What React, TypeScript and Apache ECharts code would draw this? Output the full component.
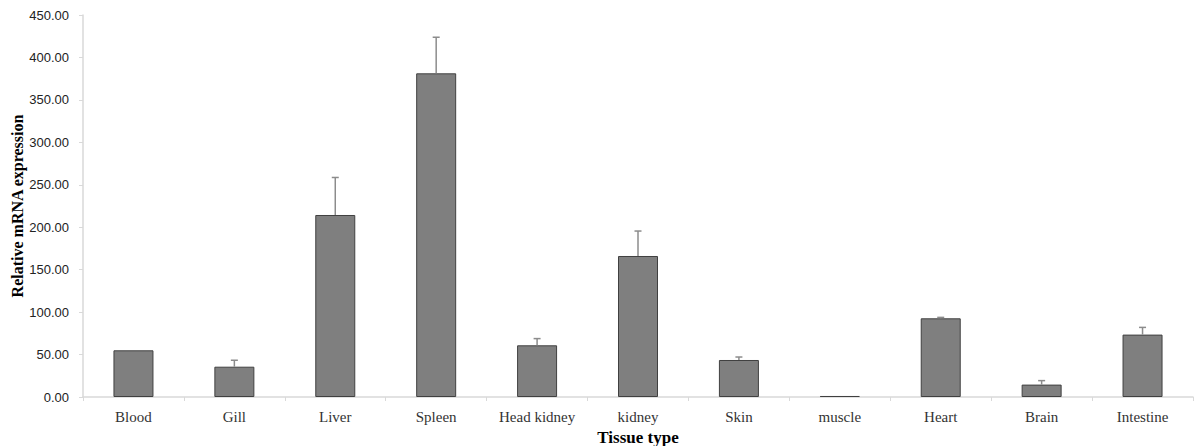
import React, { useEffect, useRef } from "react";
import * as echarts from "echarts";

const categories = ["Blood", "Gill", "Liver", "Spleen", "Head kidney", "kidney", "Skin", "muscle", "Heart", "Brain", "Intestine"];
const means = [55.0, 35.7, 214.4, 381.3, 60.9, 166.1, 43.6, 1.2, 92.7, 14.6, 73.5];
const errors = [0, 7.6, 44.2, 42.5, 7.9, 29.4, 3.5, 0, 1.1, 4.7, 8.5];
const yTicks = { min: 0, max: 450, interval: 50 };

export default function App() {
  const ref = useRef<HTMLDivElement>(null);
  useEffect(() => {
    document.body.style.margin = "0";
    const chart = echarts.init(ref.current!, null, { renderer: "svg" });
    const errData = categories.map((_, i) => [i, means[i], means[i] + errors[i]]);
    chart.setOption({
      animation: false,
      backgroundColor: "#ffffff",
      grid: { left: 83, right: 2, top: 15, bottom: 49, containLabel: false, outerBoundsMode: "none" },
      xAxis: {
        type: "category",
        data: categories,
        name: "Tissue type",
        nameLocation: "middle",
        nameGap: 32,
        nameMoveOverlap: false,
        nameTextStyle: { fontFamily: "Liberation Serif", fontWeight: "bold", fontSize: 17, color: "#000" },
        axisLine: { lineStyle: { color: "#d9d9d9", width: 1.5 } },
        axisTick: { show: true, length: 4, lineStyle: { color: "#d9d9d9" } },
        axisLabel: { fontFamily: "Liberation Serif", fontSize: 15, color: "#333", margin: 12 },
      },
      yAxis: {
        type: "value",
        min: yTicks.min,
        max: yTicks.max,
        interval: yTicks.interval,
        name: "Relative mRNA expression",
        nameLocation: "middle",
        nameGap: 58,
        nameMoveOverlap: false,
        nameTextStyle: { fontFamily: "Liberation Serif", fontWeight: "bold", fontSize: 16, color: "#000" },
        axisLine: { show: true, lineStyle: { color: "#d9d9d9", width: 1.5 } },
        axisTick: { show: true, length: 4, lineStyle: { color: "#d9d9d9" } },
        splitLine: { show: false },
        axisLabel: {
          fontFamily: "Liberation Sans",
          fontSize: 13,
          color: "#222",
          margin: 14,
          formatter: (v: number) => v.toFixed(2),
        },
      },
      series: [
        {
          type: "bar",
          data: means,
          barWidth: 40,
          itemStyle: { color: "#7f7f7f", borderColor: "#404040", borderWidth: 1 },
        },
        {
          type: "custom",
          data: errData,
          z: 5,
          renderItem: (params: any, api: any) => {
            const x = api.value(0);
            const lo = api.coord([x, api.value(1)]);
            const hi = api.coord([x, api.value(2)]);
            if (api.value(2) - api.value(1) <= 0) return { type: "group", children: [] };
            const style = { stroke: "#8c8c8c", lineWidth: 1.5 };
            return {
              type: "group",
              children: [
                { type: "line", shape: { x1: lo[0], y1: lo[1], x2: hi[0], y2: hi[1] }, style },
                { type: "line", shape: { x1: hi[0] - 3.5, y1: hi[1], x2: hi[0] + 3.5, y2: hi[1] }, style },
              ],
            };
          },
        },
      ],
    });
    return () => chart.dispose();
  }, []);
  return <div ref={ref} style={{ width: 1195, height: 446 }} />;
}
